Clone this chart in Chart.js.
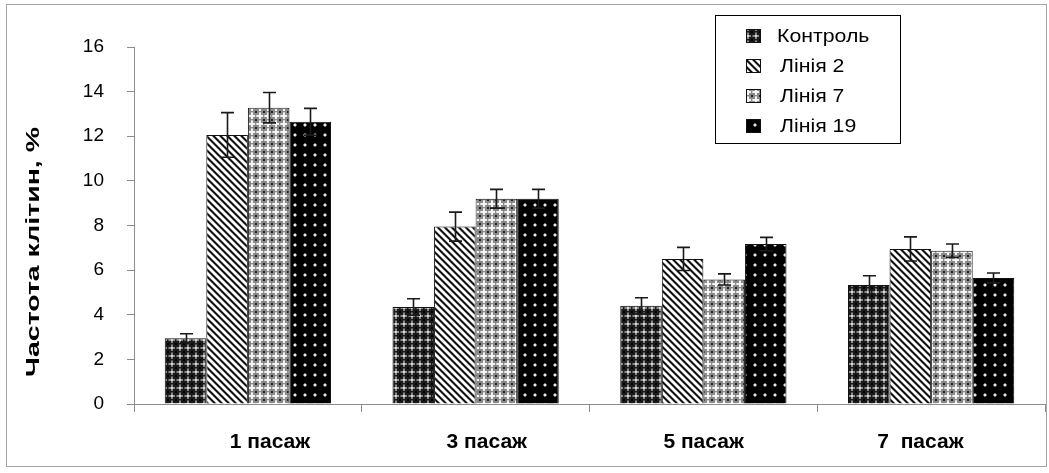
<!DOCTYPE html>
<html><head><meta charset="utf-8">
<script src="https://cdn.jsdelivr.net/npm/chart.js@4.4.1/dist/chart.umd.min.js"></script>
<style>html,body{margin:0;padding:0;background:#fff;}#wrap{width:1049px;height:473px;}</style>
</head><body><div id="wrap"><canvas id="c" width="1049" height="473"></canvas></div>
<script>
const categories = ['1 пасаж', '3 пасаж', '5 пасаж', '7  пасаж'];
const seriesNames = ['Контроль', 'Лінія 2', 'Лінія 7', 'Лінія 19'];
const controlValues = [2.95, 4.35, 4.4, 5.33];
const line2Values = [12.06, 7.95, 6.5, 6.95];
const line7Values = [13.28, 9.2, 5.58, 6.87];
const line19Values = [12.65, 9.2, 7.17, 5.65];
const controlErr = [0.2, 0.37, 0.36, 0.42];
const line2Err = [1.0, 0.65, 0.52, 0.54];
const line7Err = [0.68, 0.42, 0.25, 0.3];
const line19Err = [0.6, 0.42, 0.3, 0.22];
const yTicks = [0, 2, 4, 6, 8, 10, 12, 14, 16];
const yTitle = 'Частота клітин, %';

function tile(w, h, draw) {
  const c = document.createElement('canvas'); c.width = w; c.height = h;
  const g = c.getContext('2d'); draw(g);
  return document.getElementById('c').getContext('2d').createPattern(c, 'repeat');
}
const patControl = tile(8, 8, g => {
  g.fillStyle = '#1a1a1a'; g.fillRect(0, 0, 8, 8);
  g.fillStyle = '#8a8a8a'; g.fillRect(3, 1, 2, 6); g.fillRect(1, 3, 6, 2);
  g.fillStyle = '#d8d8d8'; g.fillRect(3, 3, 2, 2);
  g.fillStyle = '#555'; g.fillRect(0, 3, 1, 2); g.fillRect(3, 0, 2, 1);
  g.fillStyle = '#000'; g.fillRect(0, 0, 1, 1); g.fillRect(7, 0, 1, 1); g.fillRect(0, 7, 1, 1); g.fillRect(7, 7, 1, 1);
});
const patLine2 = tile(7, 7, g => {
  g.fillStyle = '#fff'; g.fillRect(0, 0, 7, 7);
  for (let i = 0; i < 7; i++) {
    g.fillStyle = '#111'; g.fillRect(i, i, 1, 1); g.fillRect((i + 1) % 7, i, 1, 1);
    g.fillStyle = '#8a8a8a'; g.fillRect((i + 2) % 7, i, 1, 1); g.fillRect((i + 6) % 7, i, 1, 1);
  }
});
const patLine7 = tile(8, 8, g => {
  g.fillStyle = '#8a8a8a'; g.fillRect(0, 0, 8, 8);
  g.fillStyle = '#f4f4f4'; g.fillRect(3, 1, 2, 6); g.fillRect(1, 3, 6, 2);
  g.fillStyle = '#cfcfcf'; g.fillRect(0, 3, 1, 2); g.fillRect(3, 0, 2, 1);
  g.fillStyle = '#222'; g.fillRect(0, 0, 1, 1); g.fillRect(7, 0, 1, 1); g.fillRect(0, 7, 1, 1); g.fillRect(7, 7, 1, 1);
});
const patLine19 = tile(10, 10, g => {
  g.fillStyle = '#000'; g.fillRect(0, 0, 10, 10);
  g.fillStyle = '#666'; g.fillRect(4, 3, 2, 4); g.fillRect(3, 4, 4, 2);
  g.fillStyle = '#e8e8e8'; g.fillRect(4, 4, 2, 2);
});

const valueSets = [controlValues, line2Values, line7Values, line19Values];
const errSets = [controlErr, line2Err, line7Err, line19Err];
const pats = [patControl, patLine2, patLine7, patLine19];

const datasets = seriesNames.map((n, i) => ({
  label: n, data: valueSets[i], errors: errSets[i],
  backgroundColor: pats[i], borderColor: '#111', borderWidth: 1,
  categoryPercentage: 0.73, barPercentage: 1.0
}));

const FONT = '"Liberation Sans", Arial, sans-serif';

const errorBars = {
  id: 'errorBars',
  afterDatasetsDraw(chart) {
    const ctx = chart.ctx, ys = chart.scales.y;
    ctx.save(); ctx.strokeStyle = '#1a1a1a'; ctx.lineWidth = 1.6;
    chart.data.datasets.forEach((ds, di) => {
      const meta = chart.getDatasetMeta(di);
      meta.data.forEach((bar, i) => {
        const v = ds.data[i], e = ds.errors[i];
        const x = Math.round(bar.x) + 0.5;
        const y1 = ys.getPixelForValue(v + e), y2 = ys.getPixelForValue(v - e);
        ctx.beginPath();
        ctx.moveTo(x, y1); ctx.lineTo(x, y2);
        ctx.moveTo(x - 6.5, y1); ctx.lineTo(x + 6.5, y1);
        ctx.moveTo(x - 6.5, y2); ctx.lineTo(x + 6.5, y2);
        ctx.stroke();
      });
    });
    ctx.restore();
  }
};

const decor = {
  id: 'decor',
  afterDraw(chart) {
    const ctx = chart.ctx, xs = chart.scales.x;
    ctx.save();
    ctx.strokeStyle = '#a6a6a6'; ctx.lineWidth = 1;
    ctx.strokeRect(6.5, 4.5, 1040, 462);
    ctx.restore();
    // category labels (slightly drawn-in towards the middle, as in the reference)
    ctx.save();
    ctx.fillStyle = '#000'; ctx.font = 'bold 21px ' + FONT;
    ctx.textAlign = 'center'; ctx.textBaseline = 'middle';
    categories.forEach((lab, i) => {
      const cx = xs.getPixelForValue(i);
      ctx.fillText(lab, 34 + cx * 0.952, 442);
    });
    ctx.restore();
    // y title
    ctx.save();
    ctx.translate(34, 252); ctx.rotate(-Math.PI / 2);
    ctx.fillStyle = '#000'; ctx.font = 'bold 19px ' + FONT;
    ctx.textAlign = 'center'; ctx.textBaseline = 'middle';
    const w = ctx.measureText(yTitle).width;
    ctx.scale(250 / w, 1);
    ctx.fillText(yTitle, 0, 0);
    ctx.restore();
    // legend
    ctx.save();
    ctx.fillStyle = '#fff'; ctx.fillRect(715, 15, 185, 128);
    ctx.strokeStyle = '#000'; ctx.lineWidth = 1;
    ctx.strokeRect(715.5, 15.5, 185, 128);
    chart.data.datasets.forEach((ds, i) => {
      const cy = 36 + i * 30;
      ctx.fillStyle = ds.backgroundColor;
      ctx.fillRect(746, cy - 7, 15, 14);
      ctx.strokeStyle = '#111'; ctx.strokeRect(746.5, cy - 6.5, 14, 13);
      ctx.save();
      ctx.translate(i === 0 ? 777 : 780, cy + 1);
      ctx.scale(1.12, 1);
      ctx.font = '19px ' + FONT; ctx.textBaseline = 'middle'; ctx.textAlign = 'left';
      ctx.fillStyle = '#000';
      ctx.fillText(ds.label, 0, 0);
      ctx.restore();
    });
    ctx.restore();
  }
};

new Chart(document.getElementById('c'), {
  type: 'bar',
  data: { labels: categories, datasets },
  plugins: [errorBars, decor],
  options: {
    responsive: false, animation: false, devicePixelRatio: 1,
    layout: { padding: { top: 47, right: 4, bottom: 0, left: 0 } },
    plugins: { legend: { display: false }, tooltip: { enabled: false } },
    scales: {
      x: {
        afterFit(s) { s.height = 69; },
        grid: { display: true, drawOnChartArea: false, drawTicks: true, tickLength: 8, color: '#8c8c8c', offset: true },
        border: { display: true, color: '#8c8c8c', width: 1 },
        ticks: { display: false }
      },
      y: {
        min: 0, max: 16,
        afterFit(s) { s.width = 134; },
        afterBuildTicks(s) { s.ticks = yTicks.map(v => ({ value: v })); },
        grid: { display: true, drawOnChartArea: false, drawTicks: true, tickLength: 7, color: '#8c8c8c' },
        border: { display: true, color: '#8c8c8c', width: 1 },
        ticks: { color: '#000', font: { family: FONT, size: 19 }, padding: 23 }
      }
    }
  }
});
</script>
</body></html>
